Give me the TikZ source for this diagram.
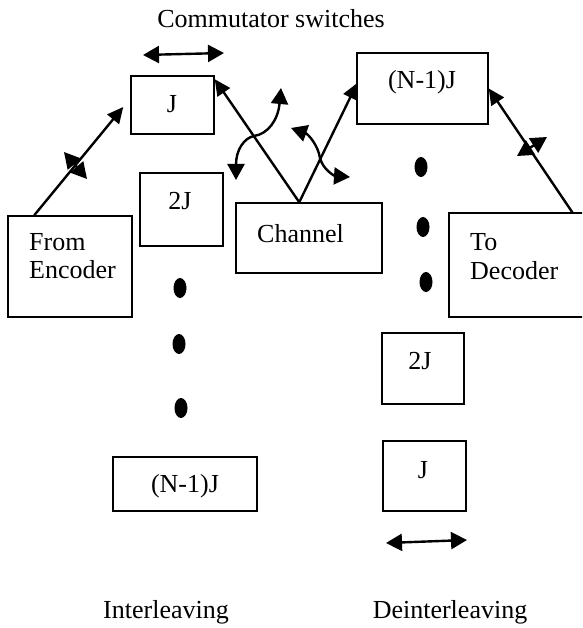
\documentclass[tikz,border=0pt]{standalone}
\usepackage{fontspec}
\setmainfont{Liberation Serif}
\usetikzlibrary{arrows.meta,shapes.geometric}
\begin{document}
\begin{tikzpicture}[x=1pt,y=-1pt,
  box/.style={draw, line width=1.5pt, inner sep=0pt},
  txt/.style={font=\fontsize{26pt}{28pt}\selectfont, inner sep=0pt, anchor=base},
  txtl/.style={txt, anchor=base west},
  link/.style={line width=2.4pt, -{Triangle[length=16pt,width=15pt]}},
  dbl/.style={line width=2.4pt, {Triangle[length=16pt,width=17pt]}-{Triangle[length=16pt,width=17pt]}},
  dotnode/.style={ellipse, fill, inner sep=0pt, minimum width=13pt, minimum height=20pt}]
\clip (0,0) rectangle (582,628);
% boxes
\node[box, minimum width=83pt, minimum height=58pt] (J1) at (172.5,105) {};
\node[box, minimum width=83pt, minimum height=73pt] (J2) at (181.5,209.5) {};
\node[box, minimum width=144pt, minimum height=54pt] (JN) at (185,484) {};
\node[box, minimum width=124pt, minimum height=101pt] (enc) at (70,266.5) {};
\node[box, minimum width=146pt, minimum height=70pt] (ch) at (309,238) {};
\node[box, minimum width=131pt, minimum height=71pt] (DN) at (422.5,88.5) {};
\node[box, minimum width=151pt, minimum height=104pt] (dec) at (524.5,265) {};
\node[box, minimum width=82pt, minimum height=71pt] (D2) at (423,368.5) {};
\node[box, minimum width=83pt, minimum height=70pt] (D1) at (424.5,476) {};
% labels
\node[txt] (tcs) at (271,28) {Commutator switches};
\node[txt] (tJ1) at (172,113) {J};
\node[txt] (tJ2) at (180,210) {2J};
\node[txt] (tJN) at (185,492) {(N-1)J};
\node[txtl] (tenc1) at (29,250) {From};
\node[txtl] (tenc2) at (29,278) {Encoder};
\node[txtl] (tch) at (257,242) {Channel};
\node[txt] (tDN) at (422,89) {(N-1)J};
\node[txtl] (tdec1) at (470,250) {To};
\node[txtl] (tdec2) at (470,279) {Decoder};
\node[txt] (tD2) at (420,369) {2J};
\node[txt] (tD1) at (423,478) {J};
\node[txt] (til) at (166,618) {Interleaving};
\node[txt] (tdil) at (450,618) {Deinterleaving};
% dots
\node[dotnode] (dl1) at (180,288) {};
\node[dotnode] (dl2) at (179,344) {};
\node[dotnode] (dl3) at (181,408) {};
\node[dotnode] (dr1) at (421,167) {};
\node[dotnode] (dr2) at (423,227) {};
\node[dotnode] (dr3) at (426,282) {};
% connectors
\draw[link] ([xshift=27pt]enc.north west) -- ([xshift=-7pt,yshift=-2pt]J1.west);
\draw[link] ([xshift=64pt]ch.north west) -- ([yshift=-4pt]J1.north east);
\draw[link] ([xshift=64pt]ch.north west) -- ([xshift=1pt,yshift=5.5pt]DN.west);
\draw[link] ([xshift=124pt]dec.north west) -- (DN.east);
% switch symbols
\coordinate (s1a) at (64,152);
\coordinate (s1b) at (87,179);
\draw[dbl] (s1a) -- (s1b);
\coordinate (s2a) at (517,156);
\coordinate (s2b) at (547,137);
\draw[dbl] (s2a) -- (s2b);
\coordinate (ta) at (143,55);
\coordinate (tb) at (224,53);
\draw[dbl] (ta) -- (tb);
\coordinate (ba) at (386,543);
\coordinate (bb) at (467,540);
\draw[dbl] (ba) -- (bb);
% curved arrows
\coordinate (ca1) at (236,180);
\coordinate (ca2) at (254,136);
\coordinate (ca3) at (281,88);
\draw[dbl] (ca1) .. controls (236,150) and (244,138) .. (ca2) .. controls (268,134) and (278,120) .. (ca3);
\coordinate (cb1) at (291,128);
\coordinate (cb2) at (320,158);
\coordinate (cb3) at (350,177);
\draw[dbl] (cb1) .. controls (308,134) and (318,145) .. (cb2) .. controls (323,170) and (335,176) .. (cb3);
\end{tikzpicture}
\end{document}
